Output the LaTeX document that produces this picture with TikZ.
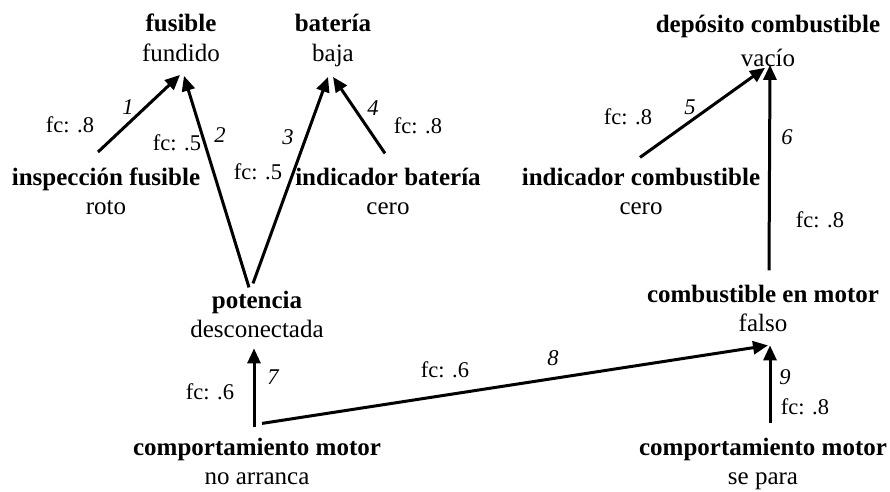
\documentclass[tikz,border=0pt]{standalone}
\usepackage{fontspec}
\setmainfont{Liberation Serif}
\usetikzlibrary{arrows.meta,calc}
\tikzset{
  concept/.style={inner sep=0pt, outer sep=0pt, align=center, font=\fontsize{25}{29.5}\selectfont},
  lbl/.style={inner sep=0pt, font=\fontsize{22.5}{26}\selectfont},
  num/.style={inner sep=0pt, font=\fontsize{22.5}{26}\selectfont\itshape},
  rule/.style={line width=3pt, -{Triangle[length=15pt,width=13pt]}}
}
\begin{document}
\begin{tikzpicture}[x=1pt,y=-1pt]
\useasboundingbox (0,0) rectangle (890,491);
% concepts
\node[concept] (fus) at (181,40.4) {\strut\textbf{fusible}\\\strut fundido};
\node[concept] (bat) at (333,40.4) {\strut\textbf{batería}\\\strut baja};
\node[concept] (dep) at (768,43.1) {\strut\textbf{depósito combustible}\\[4.5pt]\strut vacío};
\node[concept] (ins) at (106,193.9) {\strut\textbf{inspección fusible}\\\strut roto};
\node[concept] (ibat) at (388,193.9) {\strut\textbf{indicador batería}\\\strut cero};
\node[concept] (icomb) at (641,193.9) {\strut\textbf{indicador combustible}\\\strut cero};
\node[concept] (pot) at (257,316.9) {\strut\textbf{potencia}\\\strut desconectada};
\node[concept] (cmot) at (763,310.9) {\strut\textbf{combustible en motor}\\\strut falso};
\node[concept] (cm1) at (257,463.9) {\strut\textbf{comportamiento motor}\\\strut no arranca};
\node[concept] (cm2) at (763,463.9) {\strut\textbf{comportamiento motor}\\\strut se para};
% rules
\draw[rule] ($(ins.north)+(-8,-12.4)$) -- ($(fus.south)+(-1,5)$);
\draw[rule] ($(pot.north)+(-8,0)$) -- ($(fus.south)+(3,6)$);
\draw[rule] ($(pot.north)+(-4,-4)$) -- ($(bat.south)+(-5,7)$);
\draw[rule] ($(ibat.north)+(-3,-11)$) -- ($(bat.south)+(0,7)$);
\draw[rule] ($(icomb.north)+(-1,-7)$) -- ($(dep.south)+(-3,-7)$);
\draw[rule] ($(cmot.north)+(6,-11)$) -- ($(dep.south)+(2,-10)$);
\draw[rule] ($(cm1.north)+(-3,-7)$) -- ($(pot.south)+(-3,2)$);
\draw[rule] ($(cm1.north)+(5,-11)$) -- ($(cmot.south)+(5,5)$);
\draw[rule] ($(cm2.north)+(7,-11)$) -- ($(cmot.south)+(7,5)$);
% labels
\node[num] (n1) at (128,107) {1};
\node[lbl] (f1) at (70,125) {fc: .8};
\node[num] (n2) at (220,135) {2};
\node[lbl] (f2) at (177,143) {fc: .5};
\node[num] (n3) at (288,137) {3};
\node[lbl] (f3) at (258,172) {fc: .5};
\node[num] (n4) at (373,108) {4};
\node[lbl] (f4) at (418,126) {fc: .8};
\node[num] (n5) at (690,107) {5};
\node[lbl] (f5) at (628,117) {fc: .8};
\node[num] (n6) at (787,137) {6};
\node[lbl] (f6) at (820,220) {fc: .8};
\node[num] (n7) at (273,377) {7};
\node[lbl] (f7) at (210,392) {fc: .6};
\node[num] (n8) at (553,358) {8};
\node[lbl] (f8) at (445,370) {fc: .6};
\node[num] (n9) at (785,377) {9};
\node[lbl] (f9) at (805,407) {fc: .8};
\end{tikzpicture}
\end{document}
